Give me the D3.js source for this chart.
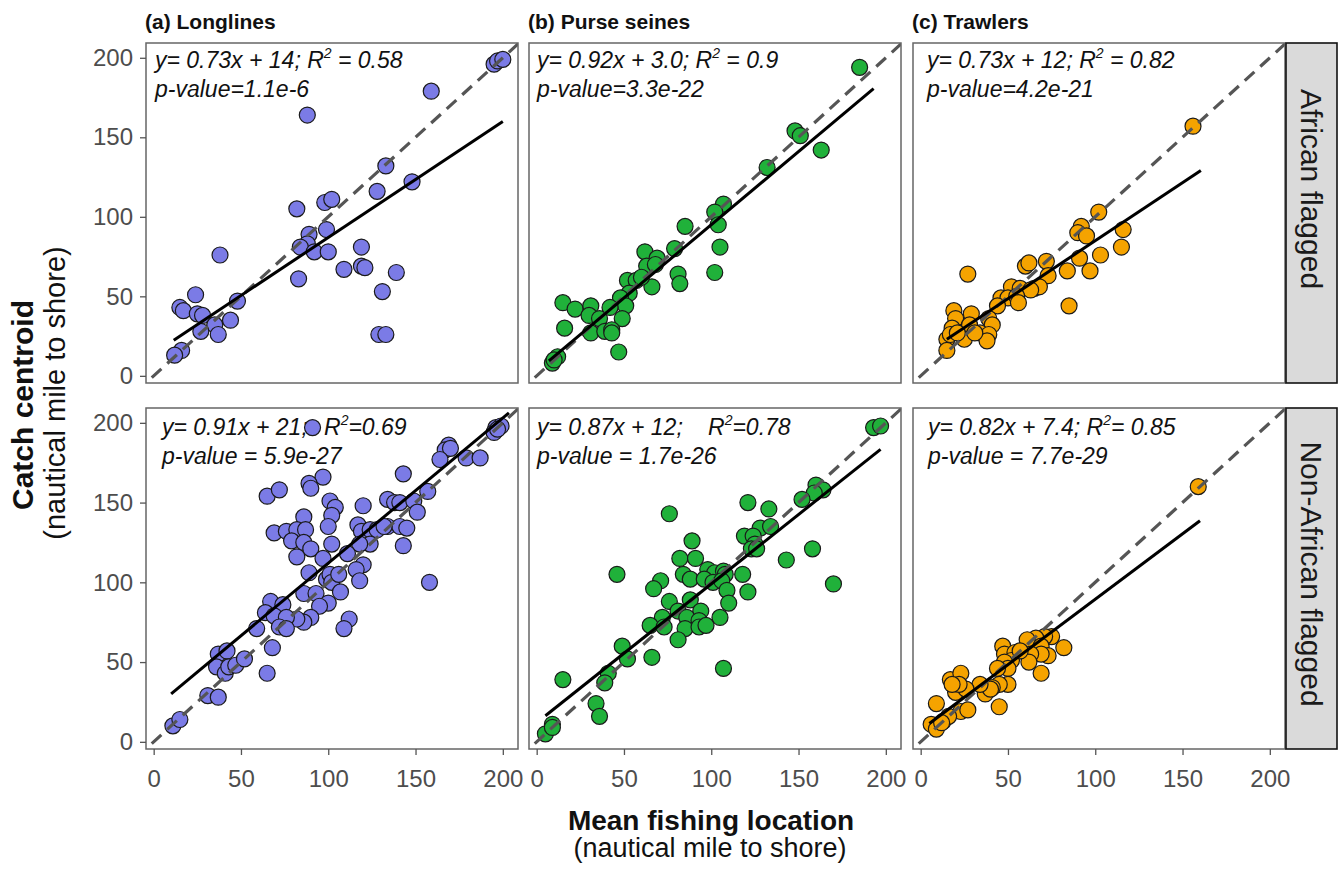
<!DOCTYPE html>
<html>
<head>
<meta charset="utf-8">
<script src="https://cdn.jsdelivr.net/npm/d3@7"></script>
<style>
body { margin: 0; background: #fff; }
text { font-family: "Liberation Sans", Arial, sans-serif; }
.ann { font-style: italic; font-size: 23px; fill: #111; white-space: pre; }
</style>
</head>
<body>
<svg width="1341" height="869"></svg>
<script>
var gears = ["(a) Longlines", "(b) Purse seines", "(c) Trawlers"];
var flags = ["African flagged", "Non-African flagged"];
var ticks = [0, 50, 100, 150, 200];

// [mean fishing location, catch centroid]
var longlinesAfrican = [[195,196],[197,198],[200,199],[159,179],[88,164],[133,132],[148,122],[128,116],[82,105],[98,109],[102,111],[89,89],[99,92],[88,83],[84,81],[92,78],[100,78],[119,81],[119,69],[121,68],[109,67],[139,65],[83,61],[131,53],[129,26],[133,26],[38,76],[24,51],[15,43],[17,41],[25,39],[28,38],[48,47],[44,35],[35,32],[27,28],[37,26],[16,16],[12,13]];
var purseAfrican = [[185,194],[148,154],[151,151],[163,142],[132,131],[107,108],[102,103],[104,95],[105,81],[102,65],[85,94],[79,80],[81,64],[82,58],[62,78],[69,74],[63,69],[68,70],[66,56],[52,60],[57,60],[60,62],[53,52],[48,49],[51,44],[15,46],[22,42],[31,44],[30,38],[36,36],[42,43],[49,36],[16,30],[31,27],[39,28],[43,29],[43,27],[47,15],[9,8],[12,12],[10,10]];
var trawlAfrican = [[156,157],[102,103],[92,94],[90,90],[95,88],[116,92],[115,81],[103,76],[91,74],[97,66],[84,66],[85,44],[27,64],[60,69],[62,71],[72,72],[73,63],[52,56],[57,55],[65,55],[68,56],[63,54],[46,49],[50,49],[55,50],[56,46],[44,44],[19,41],[20,36],[29,39],[39,36],[41,32],[18,30],[28,32],[34,27],[39,26],[38,22],[25,23],[15,23],[17,26],[15,16],[21,27],[31,27]];
var longlinesNonAfrican = [[196,197],[199,198],[195,194],[197,196],[169,186],[167,183],[170,184],[164,177],[179,178],[187,178],[143,168],[157,157],[134,152],[138,150],[141,150],[149,151],[151,144],[120,148],[134,135],[141,135],[145,134],[143,123],[117,136],[119,132],[124,133],[128,133],[132,135],[124,124],[118,124],[111,118],[120,111],[116,108],[118,101],[101,151],[104,147],[102,142],[100,135],[102,124],[97,166],[89,162],[90,159],[65,154],[72,158],[86,141],[69,131],[76,132],[82,133],[87,133],[79,126],[86,125],[90,121],[82,116],[97,115],[89,106],[99,102],[101,105],[102,100],[106,105],[107,94],[86,93],[93,93],[100,87],[95,85],[90,78],[86,75],[82,77],[112,77],[109,71],[67,88],[74,86],[64,81],[69,79],[76,78],[72,72],[76,71],[59,71],[68,59],[65,43],[37,55],[42,57],[36,47],[41,43],[43,47],[47,48],[52,52],[31,29],[37,28],[11,10],[15,14],[158,100],[91,197]];
var purseNonAfrican = [[193,197],[197,198],[160,161],[164,158],[159,156],[152,152],[121,150],[133,146],[76,143],[128,134],[134,135],[119,129],[124,129],[125,124],[123,121],[126,121],[158,121],[143,114],[170,99],[89,126],[82,115],[91,115],[98,108],[102,106],[107,107],[108,105],[118,105],[84,105],[88,102],[96,102],[101,100],[106,101],[109,95],[121,94],[46,105],[71,101],[67,96],[76,88],[88,89],[94,82],[110,87],[81,82],[86,78],[72,78],[93,76],[105,78],[65,73],[73,72],[85,71],[93,72],[97,73],[81,64],[49,60],[52,52],[66,53],[107,46],[41,43],[39,37],[15,39],[34,24],[36,16],[5,5],[9,11],[9,9]];
var trawlNonAfrican = [[159,160],[82,59],[75,66],[71,66],[66,65],[61,64],[69,60],[73,54],[69,55],[69,43],[63,55],[62,50],[47,60],[48,55],[54,56],[52,51],[48,50],[57,57],[50,46],[44,46],[50,36],[45,36],[41,34],[37,30],[40,33],[34,36],[45,22],[17,39],[23,43],[20,31],[26,33],[22,36],[9,24],[23,19],[27,20],[18,36],[6,11],[9,8],[13,13],[16,16],[12,12]];

var panelData = [[longlinesAfrican, purseAfrican, trawlAfrican],
                 [longlinesNonAfrican, purseNonAfrican, trawlNonAfrican]];

// fitted lines
var slopes = [[0.73, 0.92, 0.73], [0.91, 0.87, 0.82]];
var intercepts = [[14, 3.0, 12], [21, 12, 7.4]];
var fitFrom = [[11.5, 7, 15], [10, 5, 5]];
var fitTo = [[200, 193, 160.5], [203.5, 197, 160]];

var eqLabels = [["y= 0.73x + 14; ", "y= 0.92x + 3.0; ", "y= 0.73x + 12; "],
                ["y= 0.91x + 21; ", "y= 0.87x + 12; ", "y= 0.82x + 7.4; "]];
var r2Labels = [[" = 0.58", " = 0.9", " = 0.82"], ["=0.69", "=0.78", "= 0.85"]];
var pLabels = [["p-value=1.1e-6", "p-value=3.3e-22", "p-value=4.2e-21"],
               ["p-value = 5.9e-27", "p-value = 1.7e-26", "p-value = 7.7e-29"]];

// layout
var colLeft = [146, 529, 913];
var panelW = 372;
var rowTop = [43, 408];
var rowBottom = [383, 749];
var colors = ["#7b7be6", "#20b13a", "#f5a300"];
var textX = [[9, 8, 14], [16, 8, 15]];
var textY = [[25, 54], [27, 56]];
var rX = [[null, null, null], [178, 179, null]];

var svg = d3.select("svg");

gears.forEach(function(g, c){
  svg.append("text")
     .attr("x", colLeft[c] - 1)
     .attr("y", 29)
     .attr("font-size", 21)
     .attr("font-weight", "bold")
     .attr("fill", "#111")
     .text(g);
});

for (var r = 0; r < 2; r++) {
  for (var c = 0; c < 3; c++) {
    drawPanel(r, c);
  }
  // strip
  svg.append("rect")
     .attr("x", 1286).attr("y", rowTop[r])
     .attr("width", 51).attr("height", rowBottom[r] - rowTop[r])
     .attr("fill", "#dadada").attr("stroke", "#111").attr("stroke-width", 1.6);
  var midY = r == 0 ? 189 : 574;
  svg.append("text")
     .attr("transform", "translate(1301," + midY + ") rotate(90)")
     .attr("text-anchor", "middle")
     .attr("font-size", 30)
     .attr("fill", "#1a1a1a")
     .text(flags[r]);
}

function drawPanel(r, c) {
  var left = colLeft[c], top = rowTop[r], bottom = rowBottom[r];
  var x = d3.scaleLinear().domain([-4.4, 208.7]).range([left, left + panelW]);
  var y = d3.scaleLinear().domain([-4.5, 209.3]).range([bottom, top]);
  var g = svg.append("g");

  var clipId = "clip" + r + c;
  g.append("clipPath").attr("id", clipId)
   .append("rect").attr("x", left).attr("y", top)
   .attr("width", panelW).attr("height", bottom - top);

  // annotations
  var t1 = g.append("text").attr("class", "ann")
            .attr("x", left + textX[r][c]).attr("y", top + textY[r][0]);
  t1.append("tspan").text(eqLabels[r][c]);
  var rt = t1.append("tspan").text("R");
  if (rX[r][c] != null) rt.attr("x", left + rX[r][c]);
  t1.append("tspan").attr("font-size", 14).attr("dy", -10).text("2");
  t1.append("tspan").attr("dy", 10).text(r2Labels[r][c]);
  g.append("text").attr("class", "ann")
   .attr("x", left + textX[r][c]).attr("y", top + textY[r][1])
   .text(pLabels[r][c]);

  // points
  g.selectAll("circle").data(panelData[r][c]).enter().append("circle")
   .attr("cx", function(d){ return x(d[0]); })
   .attr("cy", function(d){ return y(d[1]); })
   .attr("r", 8)
   .attr("fill", colors[c])
   .attr("stroke", "#1a1a1a")
   .attr("stroke-width", 1.2);

  // 1:1 line
  g.append("line")
   .attr("clip-path", "url(#" + clipId + ")")
   .attr("x1", x(-10)).attr("y1", y(-10))
   .attr("x2", x(220)).attr("y2", y(220))
   .attr("stroke", "#555").attr("stroke-width", 3.2)
   .attr("stroke-dasharray", "13,8");

  // regression line
  var f = function(v){ return slopes[r][c] * v + intercepts[r][c]; };
  g.append("line")
   .attr("x1", x(fitFrom[r][c])).attr("y1", y(f(fitFrom[r][c])))
   .attr("x2", x(fitTo[r][c])).attr("y2", y(f(fitTo[r][c])))
   .attr("stroke", "#000").attr("stroke-width", 3);

  // border
  g.append("rect").attr("x", left).attr("y", top)
   .attr("width", panelW).attr("height", bottom - top)
   .attr("fill", "none").attr("stroke", "#666").attr("stroke-width", 1.5);

  if (c == 0) {
    var ya = g.append("g").attr("transform", "translate(" + left + ",0)")
              .call(d3.axisLeft(y).tickValues(ticks).tickSize(6).tickPadding(7));
    styleAxis(ya);
  }
  if (r == 1) {
    var xa = g.append("g").attr("transform", "translate(0," + bottom + ")")
              .call(d3.axisBottom(x).tickValues(ticks).tickSize(6).tickPadding(15));
    styleAxis(xa);
  }
}

function styleAxis(a) {
  a.select(".domain").remove();
  a.selectAll(".tick line").attr("stroke", "#555").attr("stroke-width", 1.3);
  a.selectAll(".tick text").attr("fill", "#4d4d4d").attr("font-size", 24)
   .attr("font-family", "Liberation Sans, Arial, sans-serif");
}

// axis titles
svg.append("text").attr("x", 711).attr("y", 830)
   .attr("text-anchor", "middle").attr("font-size", 28).attr("font-weight", "bold")
   .attr("fill", "#111").text("Mean fishing location");
svg.append("text").attr("x", 710).attr("y", 857)
   .attr("text-anchor", "middle").attr("font-size", 27)
   .attr("fill", "#111").text("(nautical mile to shore)");
svg.append("text").attr("transform", "translate(33,405) rotate(-90)")
   .attr("text-anchor", "middle").attr("font-size", 30).attr("font-weight", "bold")
   .attr("fill", "#111").text("Catch centroid");
svg.append("text").attr("transform", "translate(65,393) rotate(-90)")
   .attr("text-anchor", "middle").attr("font-size", 29)
   .attr("fill", "#111").text("(nautical mile to shore)");
</script>
</body>
</html>
